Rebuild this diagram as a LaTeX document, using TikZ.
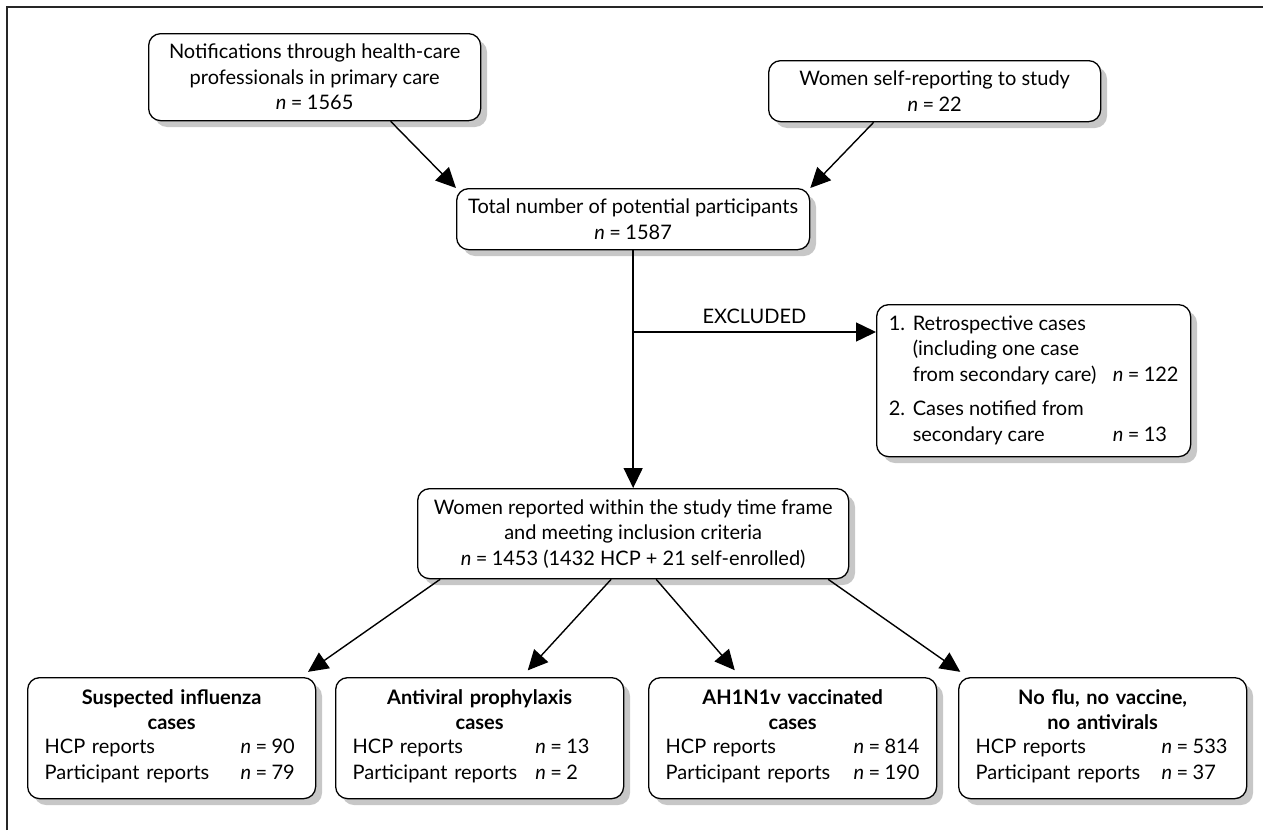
\documentclass[tikz,border=0pt]{standalone}
\usepackage{fontspec}
\setmainfont{Lato}
\usetikzlibrary{arrows.meta}
\newcommand{\ncount}[1]{\textit{n}\hspace{0.22em}=\hspace{0.22em}#1}
\begin{document}
\begin{tikzpicture}[x=1pt, y=-1pt,
        font=\fontsize{20}{25.5}\selectfont,
        box/.style={draw, line width=1.3pt, rounded corners=12pt, fill=white,
            inner sep=0pt, align=center, anchor=north west},
        boxshadow/.style={fill=black!22, rounded corners=12pt},
        arr/.style={line width=1.4pt, -{Triangle[length=20pt, width=19pt]}},
        casebox/.style={box, minimum width=288pt, minimum height=121pt, text width=254pt}]
            \useasboundingbox (0,0) rectangle (1263,830);
            \draw [line width=1.8pt, black!85] (7,830) -- (7,7) -- (1263,7);
            \foreach \sx/\sy/\sw/\sh in {148/33/332/87, 768/60/332/61, 456/188/353/61,
                    876/304/314/152, 417/488/431/90, 27/677/288/121, 335/677/288/121,
                    648/677/288/121, 958/677/288/121}
                \fill [boxshadow] (\sx+7,\sy+7) rectangle (\sx+\sw+7,\sy+\sh+7);
            \node [box, minimum width=332pt, minimum height=87pt] (notif) at (148,33)
                {Notifications through health-care\\professionals in primary care\\\ncount{1565}};
            \node [box, minimum width=332pt, minimum height=61pt] (self) at (768,60)
                {Women self-reporting to study\\\ncount{22}};
            \node [box, minimum width=353pt, minimum height=61pt] (total) at (456,188)
                {Total number of potential participants\\\ncount{1587}};
            \node [box, minimum width=314pt, minimum height=152pt] (excl) at (876,304)
                {\begin{tabular}{@{}p{24pt}@{}p{200pt}@{}l@{}}
                1. & Retrospective cases & \\
                   & (including one case & \\
                   & from secondary care) & \ncount{122}\\[9pt]
                2. & Cases notified from & \\
                   & secondary care & \ncount{13}
                \end{tabular}};
            \node [box, minimum width=431pt, minimum height=90pt] (incl) at (417,488)
                {Women reported within the study time frame\\and meeting inclusion criteria\\\ncount{1453} (1432 HCP + 21 self-enrolled)};
            \node [casebox] (flu) at (27,677)
                {\textbf{Suspected influenza}\\\textbf{cases}\\[5pt]
                \makebox[254pt][l]{\begin{tabular}{@{}p{196pt}@{}l@{}}
                HCP reports & \ncount{90}\\
                Participant reports & \ncount{79}
                \end{tabular}}};
            \node [casebox] (antiv) at (335,677)
                {\textbf{Antiviral prophylaxis}\\\textbf{cases}\\[5pt]
                \makebox[254pt][l]{\begin{tabular}{@{}l@{\hspace{18pt}}l@{}}
                HCP reports & \ncount{13}\\
                Participant reports & \ncount{2}
                \end{tabular}}};
            \node [casebox] (vacc) at (648,677)
                {\textbf{AH1N1v vaccinated}\\\textbf{cases}\\[5pt]
                \makebox[254pt][l]{\begin{tabular}{@{}p{188pt}@{}l@{}}
                HCP reports & \ncount{814}\\
                Participant reports & \ncount{190}
                \end{tabular}}};
            \node [casebox] (none) at (958,677)
                {\textbf{No flu, no vaccine,}\\\textbf{no antivirals}\\[5pt]
                \makebox[254pt][l]{\begin{tabular}{@{}p{186pt}@{}l@{}}
                HCP reports & \ncount{533}\\
                Participant reports & \ncount{37}
                \end{tabular}}};
            \draw [arr] ([xshift=76pt]notif.south) -- (total.north west);
            \draw [arr] ([xshift=-61pt]self.south) -- (total.north east);
            \draw [arr] (total.south) -- (incl.north);
            \coordinate (split) at (633,332);
            \draw [arr] (split) -- (split -| excl.west) node [midway, above=4pt] {EXCLUDED};
            \draw [arr, shorten >=9pt] ([xshift=-193pt]incl.south) -- ([xshift=129pt]flu.north);
            \draw [arr, shorten >=9pt] ([xshift=-22pt]incl.south) -- ([xshift=42pt]antiv.north);
            \draw [arr, shorten >=9pt] ([xshift=23pt]incl.south) -- ([xshift=-52pt]vacc.north);
            \draw [arr, shorten >=9pt] ([xshift=195pt]incl.south) -- ([xshift=-135pt]none.north);
        \end{tikzpicture}
\end{document}
